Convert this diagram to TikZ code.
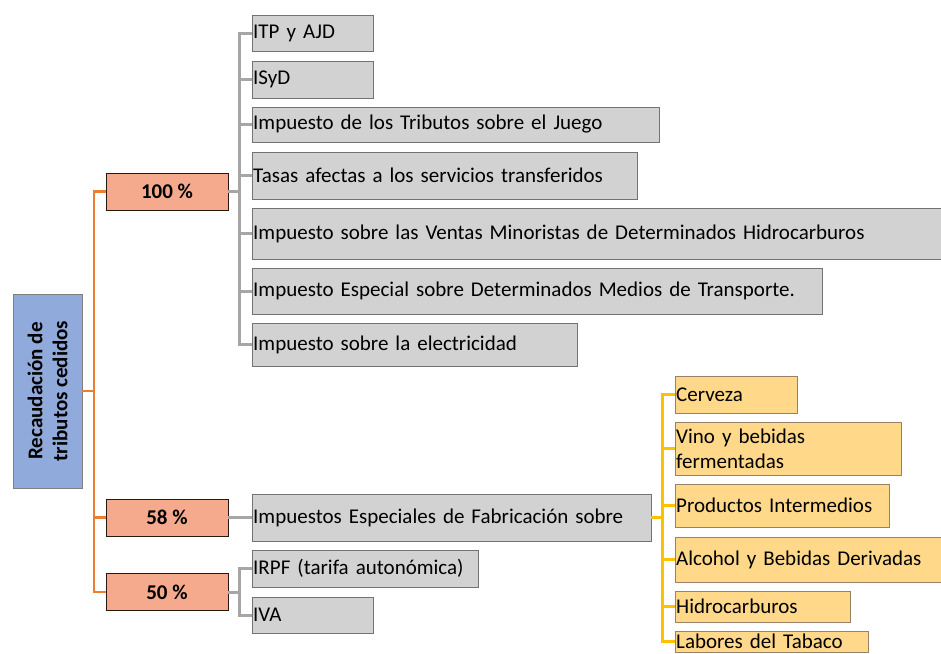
\documentclass[tikz,border=0pt]{standalone}
\usepackage{fontspec}
\setmainfont{Carlito}
\usetikzlibrary{positioning}

\definecolor{naranja}{RGB}{237,125,49}
\definecolor{gris}{RGB}{166,166,166}
\definecolor{oro}{RGB}{255,192,0}
\definecolor{fondogris}{RGB}{210,210,210}
\definecolor{fondosalmon}{RGB}{245,170,142}
\definecolor{fondoamarillo}{RGB}{255,216,138}
\definecolor{fondoazul}{RGB}{143,170,219}

\begin{document}
\begin{tikzpicture}[x=1pt, y=-1pt,
	font=\fontsize{21}{25}\selectfont,
	caja/.style={draw=black!55, fill=fondogris, anchor=west, align=left, inner xsep=1pt, inner ysep=1pt},
	cajapct/.style={draw=black!80!brown, fill=fondosalmon, font=\fontsize{21}{25}\selectfont\bfseries, minimum width=122, minimum height=37, inner sep=1pt},
	cajaama/.style={draw=brown!40!gray, fill=fondoamarillo, anchor=west, align=left, inner xsep=1pt, inner ysep=1pt},
	lnaranja/.style={naranja, line width=2.5pt},
	lgris/.style={gris, line width=3pt},
	loro/.style={oro, line width=3pt}]
	%%%	Marco
	\useasboundingbox (0,0) rectangle (941,653);
	\clip (0,0) rectangle (941,653);
	%%%	Raiz
	\node[draw=black!50, fill=fondoazul, rotate=90, minimum width=194, minimum height=69, align=center,
		font=\fontsize{21}{25}\selectfont\bfseries, inner sep=1pt] (raiz) at (47.5,391) {Recaudación de\\tributos cedidos};
	% Porcentajes
	\node[cajapct] (p100) at (167,191.5) {100 \%};
	\node[cajapct] (p58) at (167,517.5) {58 \%};
	\node[cajapct] (p50) at (167,592) {50 \%};
	% Tributos al 100 %
	\node[caja, text width=119, minimum height=36] (itp) at (252,33) {ITP y AJD};
	\node[caja, text width=119, minimum height=37] (isd) at (252,79.5) {ISyD};
	\node[caja, text width=405, minimum height=35] (juego) at (252,124.5) {Impuesto de los Tributos sobre el Juego};
	\node[caja, text width=383, minimum height=47] (tasas) at (252,175.5) {Tasas afectas a los servicios transferidos};
	\node[caja, text width=698, minimum height=51] (ventas) at (252,233.5) {Impuesto sobre las Ventas Minoristas de Determinados Hidrocarburos};
	\node[caja, text width=568, minimum height=46] (transp) at (252,291) {Impuesto Especial sobre Determinados Medios de Transporte.};
	\node[caja, text width=323, minimum height=43] (elec) at (252,344.5) {Impuesto sobre la electricidad};
	% Tributos al 58 % y al 50 %
	\node[caja, text width=397, minimum height=47] (especial) at (252,517.5) {Impuestos Especiales de Fabricación sobre};
	\node[caja, text width=224, minimum height=37] (irpf) at (252,568.5) {IRPF (tarifa autonómica)};
	\node[caja, text width=119, minimum height=36] (iva) at (252,615) {IVA};
	% Impuestos especiales
	\node[cajaama, text width=120, minimum height=37] (cerveza) at (675,394.5) {Cerveza};
	\node[cajaama, text width=224, minimum height=53] (vino) at (675,448.5) {Vino y bebidas\\fermentadas};
	\node[cajaama, text width=212, minimum height=43] (interm) at (675,505.5) {Productos Intermedios};
	\node[cajaama, text width=278, minimum height=45] (alcohol) at (675,559.5) {Alcohol y Bebidas Derivadas};
	\node[cajaama, text width=173, minimum height=31] (hidro) at (675,606.5) {Hidrocarburos};
	\node[cajaama, text width=191, minimum height=21, inner ysep=0pt] (tabaco) at (675,641.5) {Labores del Tabaco};
	%%%	Conectores
	\foreach \p in {p100,p58,p50}
	\draw[lnaranja] (raiz.south) -- ++(12,0) |- (\p.west);
	\foreach \t in {itp,isd,juego,tasas,ventas,transp,elec}
	\draw[lgris] (p100.east) -- ++(11,0) |- (\t.west);
	\draw[lgris] (p58.east) -- (especial.west);
	\foreach \t in {irpf,iva}
	\draw[lgris] (p50.east) -- ++(11,0) |- (\t.west);
	\foreach \t in {cerveza,vino,interm,alcohol,hidro,tabaco}
	\draw[loro] (especial.east) -- ++(11,0) |- (\t.west);
\end{tikzpicture}
\end{document}
